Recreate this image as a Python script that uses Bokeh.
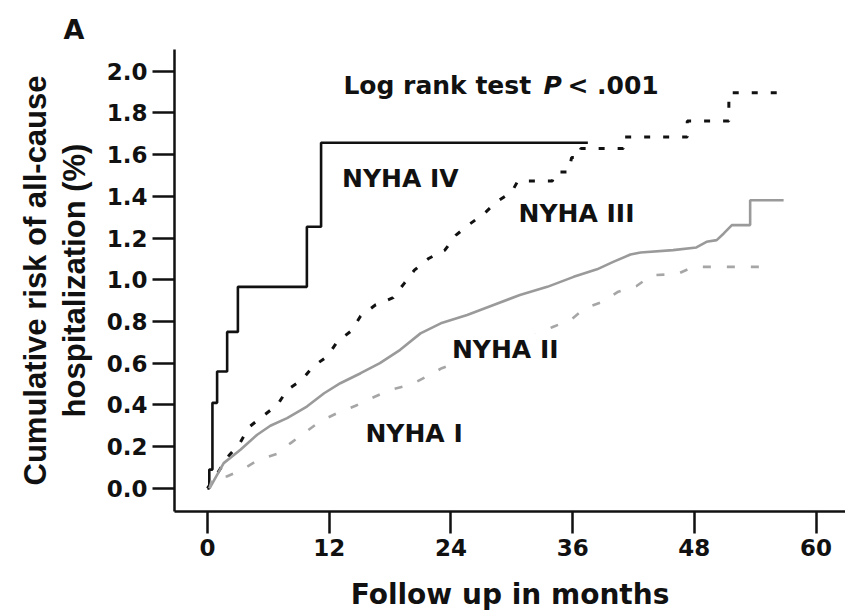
from bokeh.plotting import figure
from bokeh.models import Range1d, FixedTicker, Label, NumeralTickFormatter
from bokeh.embed import file_html
from bokeh.resources import INLINE

# ---- data ----
month_ticks = [0, 12, 24, 36, 48, 60]
risk_ticks = [0.0, 0.2, 0.4, 0.6, 0.8, 1.0, 1.2, 1.4, 1.6, 1.8, 2.0]

# NYHA IV (step curve: time of each event, cumulative risk after it)
nyha4_t = [0, 0.18, 0.49, 0.95, 1.94, 3.0, 9.8, 11.2, 37.5]
nyha4_r = [0, 0.09, 0.41, 0.56, 0.75, 0.966, 1.254, 1.657, 1.657]

# NYHA III
nyha3_t = [0, 1.2, 2.1, 3.2, 4.1, 5.5, 6.9, 7.85, 9.3, 10.4, 11.8, 12.8, 14.2, 15.1,
           16.55, 18.3, 19.4, 20.4, 21.8, 23.4, 24.5, 25.7, 27.2, 28.5, 30.0, 30.6,
           34.0, 34.3, 35.6, 35.9, 36.6, 36.8, 41.0, 41.0, 47.3, 47.3, 51.4, 51.4, 57.2]
nyha3_r = [0, 0.089, 0.156, 0.217, 0.294, 0.348, 0.40, 0.472, 0.519, 0.584, 0.632, 0.703,
           0.756, 0.826, 0.879, 0.914, 0.983, 1.046, 1.102, 1.142, 1.214, 1.262, 1.314,
           1.373, 1.421, 1.474, 1.474, 1.517, 1.517, 1.586, 1.586, 1.629, 1.629, 1.684,
           1.684, 1.761, 1.761, 1.897, 1.897]

# NYHA II
nyha2_t = [0.2, 1.6, 3.25, 4.9, 6.2, 7.85, 9.8, 11.5, 13.1, 15.1, 17.0, 19.0, 21.0, 23.0,
           25.6, 28.2, 30.8, 33.5, 36.1, 38.4, 40.0, 41.7, 42.7, 45.9, 48.2, 49.2, 50.2,
           50.9, 51.7, 53.5, 53.5, 56.8]
nyha2_r = [0.0, 0.121, 0.185, 0.257, 0.30, 0.337, 0.392, 0.456, 0.504, 0.552, 0.60, 0.664,
           0.743, 0.791, 0.831, 0.879, 0.927, 0.966, 1.014, 1.050, 1.086, 1.121, 1.131,
           1.142, 1.155, 1.182, 1.19, 1.222, 1.262, 1.262, 1.381, 1.381]

# NYHA I
nyha1_t = [0.2, 0.5, 1.9, 3.4, 5.05, 6.9, 8.2, 9.75, 11.1, 12.8, 14.6, 16.2, 18.0, 20.0,
           21.6, 23.1, 24.9, 27.1, 29.5, 32.0, 34.1, 35.8, 37.2, 39.0, 40.5, 42.3, 43.8,
           46.3, 47.9, 55.8]
nyha1_r = [0.0, 0.05, 0.057, 0.089, 0.137, 0.166, 0.217, 0.273, 0.321, 0.361, 0.396, 0.433,
           0.472, 0.496, 0.536, 0.576, 0.608, 0.635, 0.68, 0.73, 0.775, 0.807, 0.863, 0.895,
           0.943, 0.97, 1.022, 1.027, 1.062, 1.062]

series_names = ["NYHA IV", "NYHA III", "NYHA II", "NYHA I"]

# ---- figure ----
p = figure(width=845, height=613, output_backend="svg", toolbar_location=None,
           x_range=Range1d(-3.25, 62.9), y_range=Range1d(-0.111, 2.104),
           min_border_left=174, min_border_right=0, min_border_top=49, min_border_bottom=101,
           title="A")
p.title.align = "left"
p.title.offset = -111
p.title.text_font = "DejaVu Sans"
p.title.text_font_size = "27px"
p.title.text_font_style = "bold"
p.title.text_color = "#111111"
p.title.standoff = 10
p.outline_line_color = None
p.grid.visible = False
p.background_fill_color = "white"
p.border_fill_color = "white"

p.xaxis.ticker = FixedTicker(ticks=month_ticks)
p.yaxis.ticker = FixedTicker(ticks=risk_ticks)
p.yaxis.formatter = NumeralTickFormatter(format="0.0")
for ax in (p.xaxis[0], p.yaxis[0]):
    ax.axis_line_width = 2.5
    ax.axis_line_color = "#111111"
    ax.major_tick_line_width = 2.5
    ax.major_tick_line_color = "#111111"
    ax.major_tick_out = 22
    ax.major_tick_in = 0
    ax.minor_tick_line_color = None
    ax.major_label_text_font = "DejaVu Sans"
    ax.major_label_text_font_style = "bold"
    ax.major_label_text_font_size = "23px"
    ax.major_label_text_color = "#111111"
    ax.major_label_standoff = 5
    ax.axis_label_text_font_style = "bold"
    ax.axis_label_text_color = "#111111"

p.xaxis.axis_label = "Follow up in months"
p.xaxis.axis_label_text_font = "DejaVu Sans"
p.xaxis.axis_label_text_font_size = "28px"
p.xaxis.axis_label_standoff = 19

p.yaxis.axis_label = "Cumulative risk of all-cause\nhospitalization (%)"
p.yaxis.axis_label_text_font = "Liberation Sans"
p.yaxis.axis_label_text_font_size = "31px"
p.yaxis.axis_label_text_line_height = 1.1
p.yaxis.axis_label_standoff = 12

# curves
p.step(nyha4_t, nyha4_r, mode="after", line_color="#111111", line_width=2.6)
p.line(nyha3_t, nyha3_r, line_color="#111111", line_width=3, line_dash="6 13")
p.line(nyha2_t, nyha2_r, line_color="#9a9a9a", line_width=2.6)
p.line(nyha1_t, nyha1_r, line_color="#a6a6a6", line_width=2.6, line_dash="8 16")

font = "DejaVu Sans"
def lab(x, y, text, size="25px", style="bold", xoff=0, bg=None):
    l = Label(x=x, y=y, text=text, text_font=font, text_font_size=size,
              text_font_style=style, text_color="#111111", text_baseline="alphabetic",
              x_offset=xoff)
    if bg:
        l.background_fill_color = bg
        l.padding = 2
    p.add_layout(l)

lab(13.27, 1.485, series_names[0])
lab(30.67, 1.318, series_names[1])
lab(23.9, 0.664, series_names[2], bg="white")
lab(15.57, 0.265, series_names[3])

lab(13.4, 1.932, "Log rank test", size="25px")
lab(13.4, 1.932, "P", size="25px", style="bold italic", xoff=200)
lab(13.4, 1.932, "< .001", size="25px", xoff=224)

open("out.html", "w").write(file_html(p, INLINE))
